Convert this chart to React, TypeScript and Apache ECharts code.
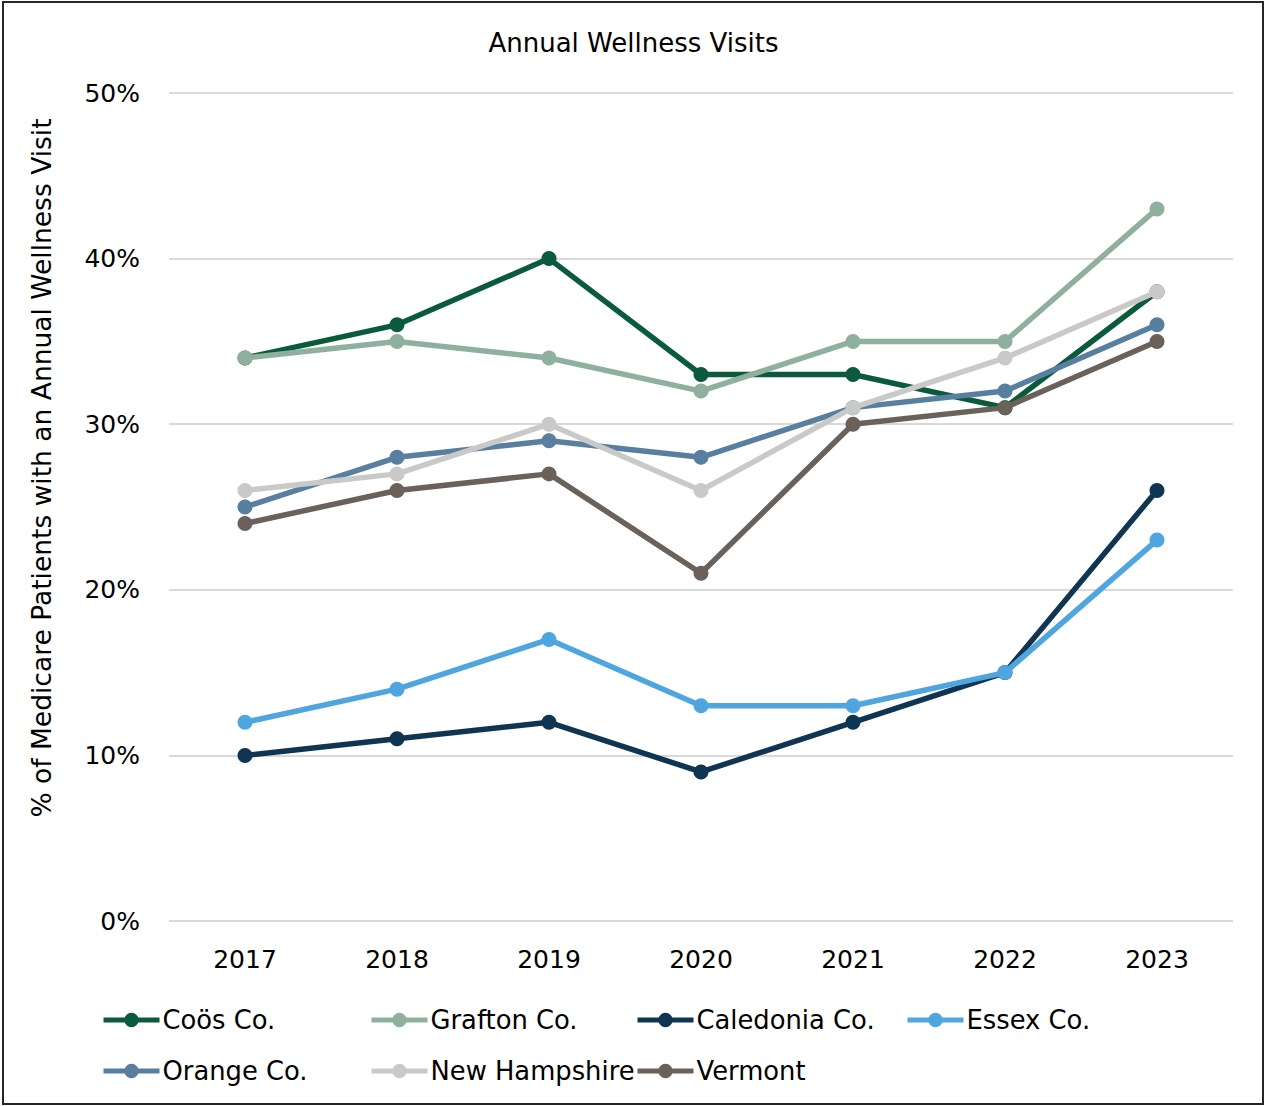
import React, { useEffect, useRef } from "react";
import * as echarts from "echarts";

const years = ["2017", "2018", "2019", "2020", "2021", "2022", "2023"];
const coos = [34, 36, 40, 33, 33, 31, 38];
const grafton = [34, 35, 34, 32, 35, 35, 43];
const caledonia = [10, 11, 12, 9, 12, 15, 26];
const essex = [12, 14, 17, 13, 13, 15, 23];
const orange = [25, 28, 29, 28, 31, 32, 36];
const newHampshire = [26, 27, 30, 26, 31, 34, 38];
const vermont = [24, 26, 27, 21, 30, 31, 35];

const seriesNames = ["Coös Co.", "Grafton Co.", "Caledonia Co.", "Essex Co.", "Orange Co.", "New Hampshire", "Vermont"];
const seriesData = [coos, grafton, caledonia, essex, orange, newHampshire, vermont];
const seriesColors = ["#0b5a3d", "#8fb09f", "#0f3552", "#4fa5e0", "#587f9f", "#c9cac8", "#6b615b"];

const FONT = "'DejaVu Sans', Verdana, sans-serif";
const FS = 25;

export default function App() {
  const ref = useRef<HTMLDivElement>(null);
  useEffect(() => {
    document.body.style.margin = "0";
    const chart = echarts.init(ref.current!, null, { renderer: "svg" });
    const legendPos = [
      [101, 1019], [369, 1019], [635, 1019], [905, 1019],
      [101, 1070], [369, 1070], [635, 1070],
    ];
    chart.setOption({
      animation: false,
      backgroundColor: "#ffffff",
      textStyle: { fontFamily: FONT },
      title: {
        text: "Annual Wellness Visits",
        left: "center",
        top: 25,
        textStyle: { fontFamily: FONT, fontSize: 26, fontWeight: "normal", color: "#000" },
      },
      grid: { left: 169, right: 34, top: 93, bottom: 185, containLabel: false },
      xAxis: {
        type: "category",
        data: years,
        boundaryGap: true,
        axisLine: { show: false },
        axisTick: { show: false },
        axisLabel: { fontFamily: FONT, fontSize: FS, color: "#000", margin: 26 },
      },
      yAxis: {
        type: "value",
        min: 0,
        max: 50,
        interval: 10,
        axisLine: { show: false },
        axisTick: { show: false },
        splitLine: { lineStyle: { color: "#d9d9d9", width: 2 } },
        axisLabel: { fontFamily: FONT, fontSize: FS, color: "#000", margin: 29, formatter: "{value}%" },
      },
      legend: seriesNames.map((n, i) => ({
        data: [n],
        left: legendPos[i][0],
        top: legendPos[i][1] - 12,
        padding: 0,
        itemWidth: 56,
        itemHeight: 18,
        itemGap: 0,
        lineStyle: { width: 5 },
        textStyle: { fontFamily: FONT, fontSize: 25.8, color: "#000", padding: [0, 0, 0, -2] },
      })),
      graphic: [
        {
          type: "rect",
          shape: { x: 3, y: 2, width: 1260, height: 1102 },
          style: { fill: "none", stroke: "#262626", lineWidth: 2 },
          silent: true,
        },
        {
          type: "text",
          x: 41,
          y: 468,
          rotation: Math.PI / 2,
          style: {
            text: "% of Medicare Patients with an Annual Wellness Visit",
            fontFamily: FONT,
            fontSize: 26.5,
            fill: "#000",
            align: "center",
            verticalAlign: "middle",
          },
        },
      ],
      series: seriesNames.map((n, i) => ({
        name: n,
        type: "line",
        data: seriesData[i],
        symbol: "circle",
        symbolSize: 15,
        color: seriesColors[i],
        itemStyle: { color: seriesColors[i] },
        lineStyle: { color: seriesColors[i], width: 5.5 },
        z: 2 + i,
      })),
    });
    return () => chart.dispose();
  }, []);
  return <div ref={ref} style={{ width: 1267, height: 1106 }} />;
}
